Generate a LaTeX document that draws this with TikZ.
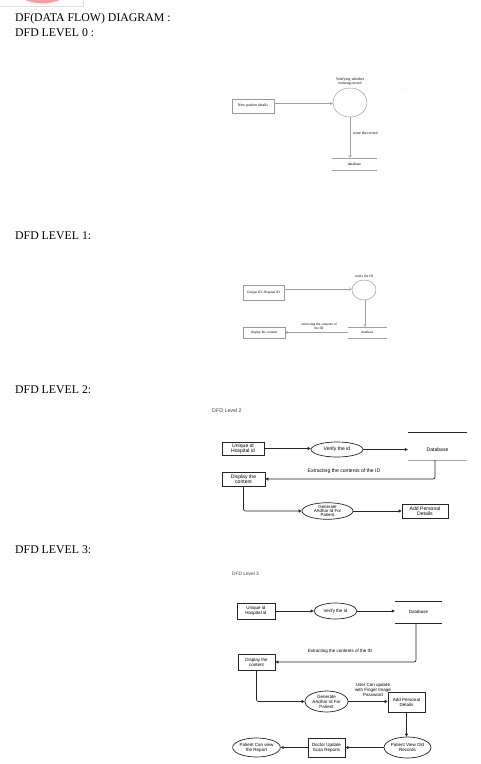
\documentclass[tikz,border=0pt]{standalone}
\usepackage{fontspec}
\setmainfont{Liberation Serif}
\newfontfamily\arialf{Liberation Sans}
\usetikzlibrary{shapes.geometric,arrows.meta}
\definecolor{logopink}{RGB}{242,160,160}
\begin{document}
\begin{tikzpicture}[x=1pt,y=-1pt,
  head/.style={anchor=base west,inner sep=0pt,font=\fontsize{11.8}{14}\selectfont},
  tsmall/.style={inner sep=0pt,align=center,font=\fontsize{3.9}{4.4}\selectfont},
  tone/.style={inner sep=0pt,align=center,font=\fontsize{3.5}{4.1}\selectfont},
  boxz/.style={draw=gray!80,line width=0.45pt,inner sep=0pt,align=center,font=\fontsize{3.9}{4.4}\selectfont},
  boxo/.style={draw=gray!80,line width=0.45pt,inner sep=0pt,align=center,font=\fontsize{3.5}{4.1}\selectfont},
  ellz/.style={ellipse,draw=gray!80,line width=0.45pt,inner sep=0pt},
  arrz/.style={draw=gray!75,line width=0.5pt,-{Straight Barb[length=2pt,width=3pt]}},
  dbline/.style={draw=gray!75,line width=0.45pt},
  ttwo/.style={inner sep=0pt,align=center,font=\arialf\fontsize{5.1}{5.6}\selectfont},
  tthree/.style={inner sep=0pt,align=center,font=\arialf\fontsize{4.5}{5}\selectfont},
  boxtwo/.style={draw=black!85,line width=0.7pt,inner sep=0pt,align=center,font=\arialf\fontsize{5.1}{5.6}\selectfont},
  elltwo/.style={ellipse,draw=black!85,line width=0.7pt,inner sep=0pt,align=center,font=\arialf\fontsize{5.1}{5.4}\selectfont},
  boxthree/.style={draw=black!85,line width=0.7pt,inner sep=0pt,align=center,font=\arialf\fontsize{4.5}{5}\selectfont},
  ellthree/.style={ellipse,draw=black!85,line width=0.7pt,inner sep=0pt,align=center,font=\arialf\fontsize{4.5}{5}\selectfont},
  arrtwo/.style={draw=black!85,line width=0.7pt,-{Triangle[length=3pt,width=3pt]}},
  dbtwo/.style={draw=black!85,line width=0.6pt}
]
\useasboundingbox[fill=white] (0,0) rectangle (481,764);
% logo fragment
\begin{scope}
  \clip (0,0) rectangle (481,10);
  \fill[logopink] (42.5,-44.7) circle (48);
\end{scope}
\draw[gray!25,line width=0.4pt] (0,6.5) -- (83,6.5) -- (83,0);

% headings
\node[head] (h1) at (15,21.7) {DF(DATA FLOW) DIAGRAM :};
\node[head] (h2) at (15,36) {DFD LEVEL 0 :};
\node[head] (h3) at (15,239.5) {DFD LEVEL 1:};
\node[head] (h4) at (15,393) {DFD LEVEL 2:};
\node[head] (h5) at (15,553) {DFD LEVEL 3:};

% ---------- Level 0
\node[boxz,minimum width=42pt,minimum height=14pt] (np) at (253,106) {New patient details};
\node[ellz,minimum width=34pt,minimum height=29pt] (v0) at (350,102.5) {};
\node[tsmall] (v0l) at (350,81.5) {Verifying whether\\existing record};
\node[tsmall,minimum width=45pt,minimum height=12pt] (db0) at (354.5,164) {database};
\draw[dbline] (db0.north west) -- (db0.north east);
\draw[dbline] (db0.south west) -- (db0.south east);
\draw[arrz] ([yshift=2.5pt]np.east) -- ([yshift=2.5pt]np.east -| v0.west);
\draw[arrz] (v0.south) -- (v0.south |- db0.north);
\node[tsmall,anchor=west] (sr) at (353,133.5) {store the record};
\fill[gray!60] (405,88) circle (0.5);

% ---------- Level 1
\node[boxo,minimum width=41pt,minimum height=15pt] (uid1) at (263.5,292.5) {Unique ID, Hospital ID};
\node[ellz,minimum width=24pt,minimum height=20pt] (v1) at (364,290) {};
\node[tone] (v1l) at (364,277) {verify the ID};
\node[tone,minimum width=39pt,minimum height=11pt] (db1) at (367.5,332.5) {database};
\draw[dbline] (db1.north west) -- (db1.north east);
\draw[dbline] (db1.south west) -- (db1.south east);
\node[boxo,minimum width=42pt,minimum height=11pt] (dc1) at (264,332.5) {display the content};
\draw[arrz] ([yshift=3.5pt]uid1.east) -- ([yshift=3.5pt]uid1.east -| v1.west);
\draw[arrz] ([xshift=1pt]v1.south) -- ([xshift=1pt]v1.south |- db1.north);
\draw[arrz] (db1.west) -- (dc1.east);
\node[tone] (ex1) at (319,326) {extracting the contents of\\the ID};

% ---------- Level 2
\node[ttwo,anchor=west,text=black!75,font=\arialf\fontsize{5.3}{6}\selectfont] (t2) at (212,410.5) {DFD Level 2};
\node[boxtwo,minimum width=42pt,minimum height=13pt] (uid2) at (243,448.5) {Unique id\\Hospital id};
\node[elltwo,minimum width=52pt,minimum height=15pt] (v2) at (337,449.5) {Verify the id};
\node[ttwo,minimum width=59pt,minimum height=28pt] (db2) at (437.5,446) {\raisebox{-5.8pt}[0pt][0pt]{Database}};
\draw[dbtwo] (db2.north west) -- (db2.north east);
\draw[draw=gray!70,line width=1.4pt] (db2.south west) -- (db2.south east);
\draw[arrtwo] (uid2.east) -- (uid2.east -| v2.west);
\draw[arrtwo] (v2.east) -- (v2.east -| db2.west);
\node[boxtwo,minimum width=43pt,minimum height=14pt] (dc2) at (243.5,479) {Display the\\content};
\draw[arrtwo,rounded corners=2pt] ([xshift=-2.5pt]db2.south) |- (dc2.east);
\node[ttwo] (ex2) at (344,471) {Extracting the contents of the ID};
\node[elltwo,minimum width=51pt,minimum height=16pt,font=\arialf\fontsize{4.4}{4.3}\selectfont] (gen2) at (327.5,511) {Generate\\AAdhar Id For\\Patient};
\node[boxtwo,minimum width=46pt,minimum height=14pt] (apd2) at (425,511) {Add Personal\\Details};
\draw[arrtwo,rounded corners=2pt] (dc2.south) |- (gen2.west);
\draw[arrtwo] (gen2.east) -- (apd2.west);

% ---------- Level 3
\node[tthree,anchor=west,text=black!75,font=\arialf\fontsize{4.8}{5.5}\selectfont] (t3) at (232,573.5) {DFD Level 3};
\node[boxthree,minimum width=38pt,minimum height=16pt] (uid3) at (256,611) {Unique id\\Hospital id};
\node[ellthree,minimum width=43pt,minimum height=16pt] (v3) at (335.5,611) {Verify the id};
\node[tthree,minimum width=47pt,minimum height=22pt] (db3) at (418.5,612) {Database};
\draw[dbtwo] (db3.north west) -- (db3.north east);
\draw[dbtwo] (db3.south west) -- (db3.south east);
\draw[arrtwo] (uid3.east) -- (v3.west);
\draw[arrtwo] (v3.east) -- (v3.east -| db3.west);
\node[boxthree,minimum width=37pt,minimum height=16pt] (dc3) at (256.5,662) {Display the\\content};
\draw[arrtwo,rounded corners=2pt] ([xshift=-2.5pt]db3.south) |- (dc3.east);
\node[tthree] (ex3) at (340,651) {Extracting the contents of the ID};
\node[ellthree,minimum width=43pt,minimum height=21pt] (gen3) at (326.5,701.5) {Generate\\AAdhar Id For\\Patient};
\node[tthree] (up3) at (373,689.5) {User Can update\\with Finger Image\\Password};
\node[boxthree,minimum width=37pt,minimum height=20pt] (apd3) at (406.5,702) {Add Personal\\Details};
\node[ellthree,minimum width=37pt,minimum height=21pt] (pv3) at (407.5,747.5) {Patient View Old\\Records};
\node[boxthree,minimum width=37pt,minimum height=19pt] (du3) at (326.5,747.5) {Doctor Update\\Scan Reports};
\node[ellthree,minimum width=41pt,minimum height=19pt] (pc3) at (256.5,747.5) {Patient Can view\\the Report};
\draw[arrtwo,rounded corners=2pt] (dc3.south) |- (gen3.west);
\draw[arrtwo] (gen3.east) -- (gen3.east -| apd3.west);
\draw[arrtwo] (apd3.south) -- (apd3.south |- pv3.north);
\draw[arrtwo] (pv3.west) -- (du3.east);
\draw[arrtwo] (du3.west) -- (pc3.east);
\end{tikzpicture}
\end{document}
